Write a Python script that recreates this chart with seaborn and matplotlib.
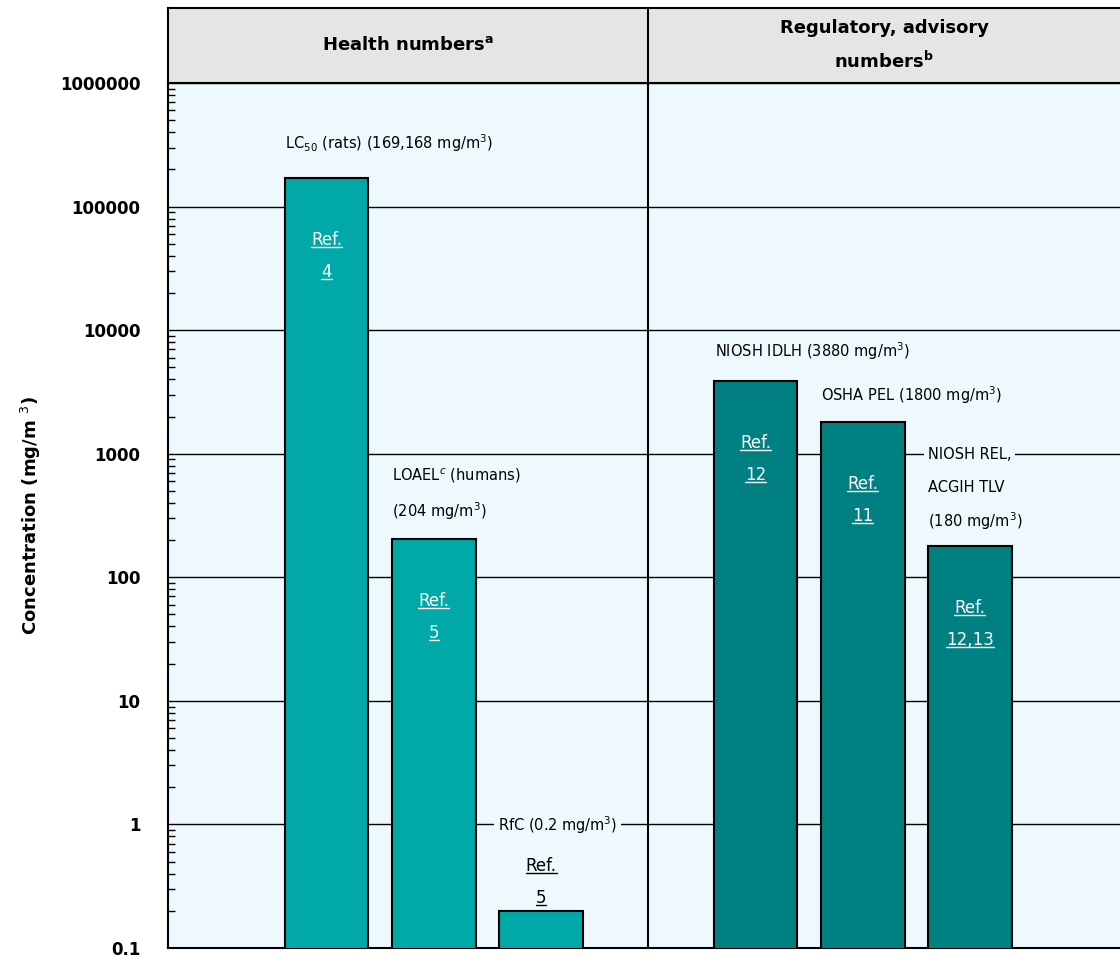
import numpy as np
import pandas as pd
import seaborn as sns
import matplotlib.pyplot as plt
from matplotlib.lines import Line2D
from matplotlib.transforms import IdentityTransform

# values
agents = ['LC50', 'LOAEL', 'RfC', 'NIOSH IDLH', 'OSHA PEL', 'NIOSH REL']
conc = [169168, 204, 0.2, 3880, 1800, 180]
groups = ['Health', 'Health', 'Health', 'Regulatory', 'Regulatory', 'Regulatory']
refs = ['4', '5', '5', '12', '11', '12,13']
labels = ['LC$_{50}$ (rats) (169,168 mg/m$^3$)',
          'LOAEL$^c$ (humans)\n(204 mg/m$^3$)',
          'RfC (0.2 mg/m$^3$)',
          'NIOSH IDLH (3880 mg/m$^3$)',
          'OSHA PEL (1800 mg/m$^3$)',
          'NIOSH REL,\nACGIH TLV\n(180 mg/m$^3$)']
yticks = [0.1, 1, 10, 100, 1000, 10000, 100000, 1000000]
ytick_labels = ['0.1', '1', '10', '100', '1000', '10000', '100000', '1000000']

df = pd.DataFrame({'agent': agents, 'conc': conc, 'group': groups})
order = agents[:3] + [' '] + agents[3:]

sns.set_style('white')
plt.rcParams['font.family'] = ['DejaVu Sans']
plt.rcParams['text.color'] = 'black'
plt.rcParams['axes.labelcolor'] = 'black'
plt.rcParams['ytick.color'] = 'black'

fig = plt.figure(figsize=(11.2, 9.58), dpi=100)
ax = fig.add_axes([0.15, 0.0104, 0.85, 0.903])
hax = fig.add_axes([0.15, 0.9134, 0.85, 0.0783])

bg = '#EEF9FD'
ax.set_facecolor(bg)
sns.barplot(data=df, x='agent', y='conc', hue='group', order=order,
            palette={'Health': '#00A8A8', 'Regulatory': '#008080'},
            saturation=1, dodge=False, width=0.78, edgecolor='black',
            linewidth=1.5, legend=False, ax=ax, zorder=3)
ax.set_yscale('log')
ax.set_ylim(0.1, 1e6)
ax.set_xlim(-1.48, 7.40)

ax.set_yticks(yticks)
ax.set_yticklabels(ytick_labels, fontsize=12, fontweight='bold')
ax.tick_params(axis='y', which='major', length=0, pad=20)
ax.tick_params(axis='y', which='minor', direction='in', length=5, width=1,
               left=True, color='black')
ax.set_xticks([])
ax.set_xlabel('')
ax.set_ylabel('Concentration (mg/m $^{3}$)', fontsize=13, fontweight='bold',
              labelpad=12)
ax.yaxis.grid(True, which='major', color='black', linewidth=1, zorder=1)
ax.set_axisbelow(True)
for s in ['left', 'bottom']:
    ax.spines[s].set_color('black')
    ax.spines[s].set_linewidth(1.5)
ax.spines['top'].set_visible(False)
ax.spines['right'].set_visible(False)
ax.axvline(3, color='black', linewidth=1.5, zorder=2)

# labels above bars (one line at a time) and refs inside bars
pos = [order.index(a) for a in agents]
offsets = [(-42, 35), (-42, 63), (-43, 86), (-40, 30), (-42, 27), (-42, 91)]
line_gaps = [0, 35, 0, 0, 0, 33]
for i, (x, v) in enumerate(zip(pos, conc)):
    dx, dy = offsets[i]
    for k, line in enumerate(labels[i].split('\n')):
        ax.annotate(line, xy=(x, v), xytext=(dx, dy - k * line_gaps[i]),
                    textcoords='offset pixels', ha='left', va='center',
                    fontsize=10.5, zorder=5,
                    bbox=dict(boxstyle='square,pad=0.25', facecolor=bg,
                              edgecolor='none'))

ref_texts = []
for i, (x, v) in enumerate(zip(pos, conc)):
    col = 'white'
    y0 = -62
    if i == 2:
        col = 'black'
        y0 = 45
    t1 = ax.annotate('Ref.', xy=(x, v), xytext=(0, y0), textcoords='offset pixels',
                     ha='center', va='center', fontsize=12, color=col, zorder=6)
    t2 = ax.annotate(refs[i], xy=(x, v), xytext=(0, y0 - 32), textcoords='offset pixels',
                     ha='center', va='center', fontsize=12, color=col, zorder=6)
    ref_texts += [(t1, col), (t2, col)]

# header
hax.set_facecolor('#E5E5E5')
hax.set_xlim(ax.get_xlim())
hax.set_ylim(0, 1)
hax.set_xticks([])
hax.set_yticks([])
for s in ['left', 'bottom', 'top']:
    hax.spines[s].set_color('black')
    hax.spines[s].set_linewidth(1.5)
hax.spines['right'].set_visible(False)
hax.axvline(3, color='black', linewidth=1.5)
hax.text(0.76, 0.5, 'Health numbers$^{\\mathbf{a}}$', ha='center', va='center',
         fontsize=13, fontweight='bold')
hax.text(5.2, 0.5, 'Regulatory, advisory\nnumbers$^{\\mathbf{b}}$', ha='center',
         va='center', fontsize=13, fontweight='bold', linespacing=1.8)

# underline the refs
fig.canvas.draw()
r = fig.canvas.get_renderer()
for t, col in ref_texts:
    bb = t.get_window_extent(r)
    fig.add_artist(Line2D([bb.x0, bb.x1], [bb.y0 + 2, bb.y0 + 2], color=col,
                          linewidth=1, transform=IdentityTransform(), zorder=7))

fig.savefig('out.png', dpi=100)
